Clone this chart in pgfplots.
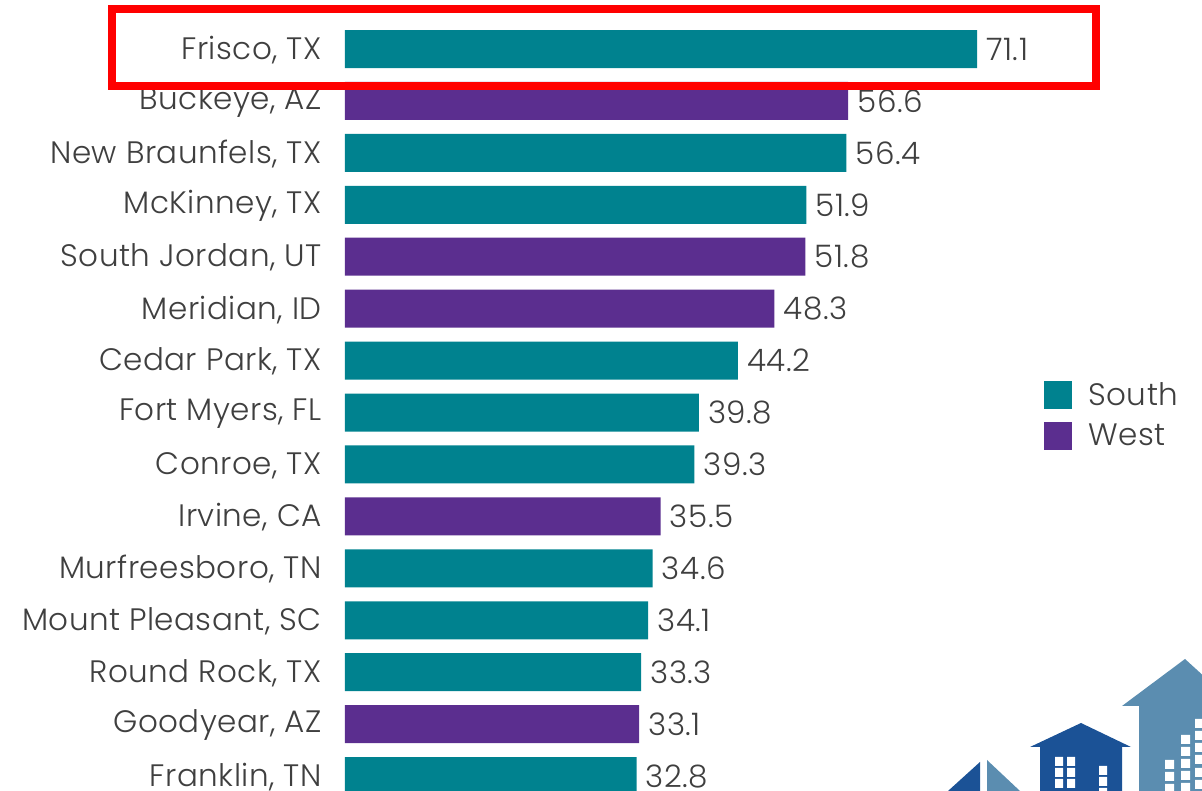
\documentclass[border=0pt]{standalone}
\usepackage{pgfplots}
\pgfplotsset{compat=1.18}
\usepackage{fontspec}
\setmainfont{Poppins}[UprightFont=* Light, LetterSpace=1.5, Numbers=Monospaced]
\definecolor{teal1}{HTML}{00828F}
\definecolor{purp1}{HTML}{5B2E8F}
\definecolor{txt}{HTML}{3F3F3F}
\definecolor{hdark}{HTML}{1B5296}
\definecolor{hlight}{HTML}{5B8DB0}
\begin{document}
\begin{tikzpicture}
\begin{axis}[
  at={(172.5pt,-395.5pt)}, anchor=south west,
  scale only axis, width=428.5pt, height=395.5pt,
  xmin=0, xmax=96.41, ymin=-0.9436, ymax=14.288, y dir=reverse,
  axis line style={draw=none}, tick style={draw=none},
  major tick length=0pt,
  xtick=\empty,
  /pgf/number format/assume math mode=true,
  ytick={0,1,2,3,4,5,6,7,8,9,10,11,12,13,14},
  yticklabels={{Frisco, TX},{Buckeye, AZ},{New Braunfels, TX},{McKinney, TX},{South Jordan, UT},{Meridian, ID},{Cedar Park, TX},{Fort Myers, FL},{Conroe, TX},{Irvine, CA},{Murfreesboro, TN},{Mount Pleasant, SC},{Round Rock, TX},{Goodyear, AZ},{Franklin, TN}},
  yticklabel style={anchor=east, inner sep=0pt, xshift=-11.5pt, yshift=-0.5pt, font=\fontsize{15.5}{18}\selectfont, text=txt},
  xbar, bar shift=0pt, bar width=19pt,
  nodes near coords={\pgfmathprintnumber[fixed,fixed zerofill,precision=1,assume math mode=true]{\pgfplotspointmeta}},
  point meta=x,
  every node near coord/.append style={anchor=west, inner sep=0pt, xshift=4.5pt, font=\fontsize{15.5}{18}\selectfont, text=txt},
  legend style={at={(0.8156,0.5221)}, anchor=north west, draw=none, fill=none, inner sep=0pt, font=\fontsize{15.5}{18}\selectfont, text=txt, row sep=3.5pt, /tikz/every odd column/.style={column sep=6pt}},
  legend cell align=left,
  legend image code/.code={\fill[#1] (0pt,-7pt) rectangle (14pt,7pt);},
]
\addplot[draw=none, fill=teal1] table[x=v, y=i] {
i v
0 71.1
2 56.4
3 51.9
6 44.2
7 39.8
8 39.3
10 34.6
11 34.1
12 33.3
14 32.8
};
\addlegendentry{South}
\addplot[draw=none, fill=purp1] table[x=v, y=i] {
i v
1 56.6
4 51.8
5 48.3
9 35.5
13 33.1
};
\addlegendentry{West}
\end{axis}
\begin{scope}[x=0.5pt,y=-0.5pt]
\path[use as bounding box] (0,0) rectangle (1202,791);
\draw[red, line width=4pt] (112,9) rectangle (1096,86);
\begin{scope}
\clip (0,0) rectangle (1202,791);
% left house
\fill[hdark] (980,762) -- (948,791) -- (980,791) -- cycle;
\fill[hlight] (987,760) -- (1020,791) -- (987,791) -- cycle;
% middle house
\fill[hdark] (1081,723) -- (1131,747) -- (1122,747) -- (1122,791) -- (1040,791) -- (1040,747) -- (1030,747) -- cycle;
\fill[white]
  (1055,757) rectangle +(8,9) (1067,757) rectangle +(8,9)
  (1055,768) rectangle +(8,9) (1067,768) rectangle +(8,9)
  (1055,779) rectangle +(8,9) (1067,779) rectangle +(8,9)
  (1099,766) rectangle +(8,9) (1099,777) rectangle +(8,9) (1099,788) rectangle +(8,9);
% right house
\fill[hlight] (1185,659) -- (1230,700) -- (1230,791) -- (1139,791) -- (1139,706) -- (1122,706) -- cycle;
\fill[white]
  (1165,760) rectangle +(9,9) (1165,772) rectangle +(9,9) (1165,784) rectangle +(9,9)
  (1181,735) rectangle +(9,9) (1181,747) rectangle +(9,9) (1181,759) rectangle +(9,9) (1181,771) rectangle +(9,9) (1181,783) rectangle +(9,9)
  (1195,719) rectangle +(9,9) (1195,731) rectangle +(9,9) (1195,743) rectangle +(9,9) (1195,755) rectangle +(9,9) (1195,768) rectangle +(9,9) (1195,780) rectangle +(9,9);
\end{scope}
\end{scope}
\end{tikzpicture}
\end{document}
